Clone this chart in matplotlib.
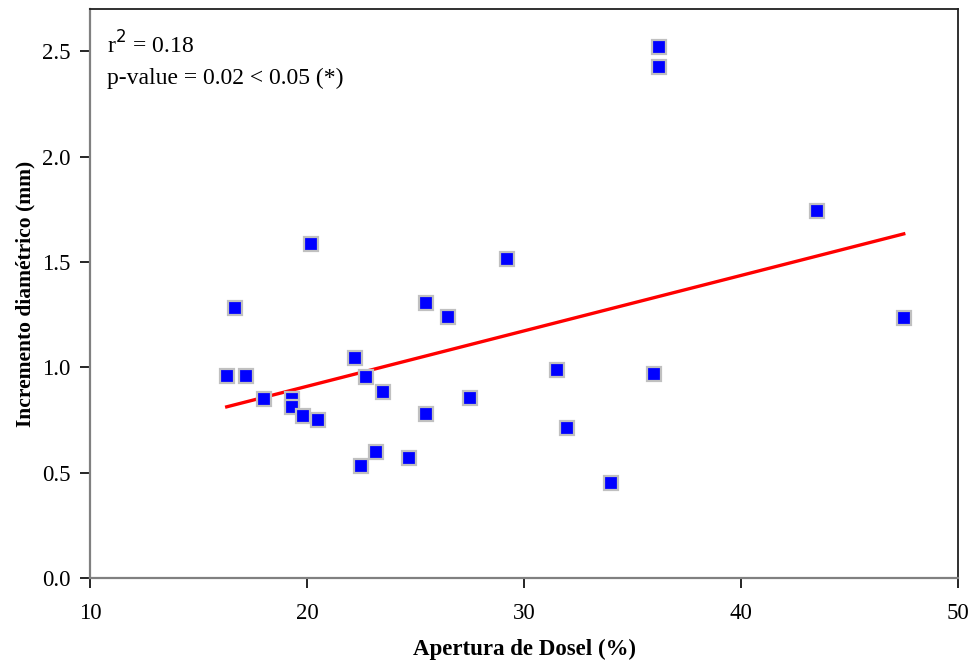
import numpy as np
import matplotlib.pyplot as plt

# apertura de dosel (%) e incremento diametrico (mm)
apertura = [16.3, 16.7, 17.2, 18.0, 19.3, 19.3, 19.8, 20.5, 20.2, 22.2, 22.7,
            23.5, 22.5, 23.2, 24.7, 25.5, 25.5, 26.5, 27.5, 29.2, 31.5, 32.0,
            34.0, 36.0, 36.2, 36.2, 43.5, 47.5]
incremento = [0.96, 1.28, 0.96, 0.85, 0.85, 0.81, 0.77, 0.75, 1.585, 1.045, 0.955,
              0.885, 0.53, 0.60, 0.57, 1.305, 0.78, 1.24, 0.855, 1.515, 0.985, 0.71,
              0.45, 0.97, 2.52, 2.425, 1.74, 1.235]

x = np.array(apertura)
y = np.array(incremento)
pendiente, intercepto = np.polyfit(x, y, 1)
xr = np.array([x.min(), x.max()])

plt.rcParams['font.family'] = ['Liberation Serif', 'DejaVu Serif']

fig = plt.figure(figsize=(9.72, 6.66), dpi=100)
ax = fig.add_axes([0.0926, 0.1321, 0.893, 0.8544])

ax.plot(xr, intercepto + pendiente * xr, color='#ff0000', lw=2.4, zorder=2)
ax.plot(x, y, 's', ms=9.8, mfc='#0000ff', mec='#c0c0c0', mew=1.6, zorder=3)

ax.set_xlim(10, 50)
ax.set_ylim(0, 2.7)
ax.set_xticks([10, 20, 30, 40, 50])
ax.set_yticks([0.0, 0.5, 1.0, 1.5, 2.0, 2.5])
ax.set_yticklabels(['0.0', '0.5', '1.0', '1.5', '2.0', '2.5'])
ax.tick_params(direction='out', length=7, width=1.2, color='#000000',
               labelsize=16.5, pad=7)
ax.tick_params(axis='x', pad=11)

for s in ['left', 'bottom']:
    ax.spines[s].set_color('#808080')
    ax.spines[s].set_linewidth(1.6)
for s in ['top', 'right']:
    ax.spines[s].set_color('#202020')
    ax.spines[s].set_linewidth(1.3)

ax.set_xlabel('Apertura de Dosel (%)', fontsize=16.5, fontweight='bold', labelpad=11)
ax.set_ylabel('Incremento diamétrico (mm)', fontsize=15.5, fontweight='bold', labelpad=5)

ax.text(0.02, 0.96, 'r$^2$ = 0.18', transform=ax.transAxes, fontsize=17,
        va='top', ha='left')
ax.text(0.02, 0.897, 'p-value = 0.02 < 0.05 (*)', transform=ax.transAxes,
        fontsize=17, va='top', ha='left')

fig.savefig('out.png', dpi=100)
